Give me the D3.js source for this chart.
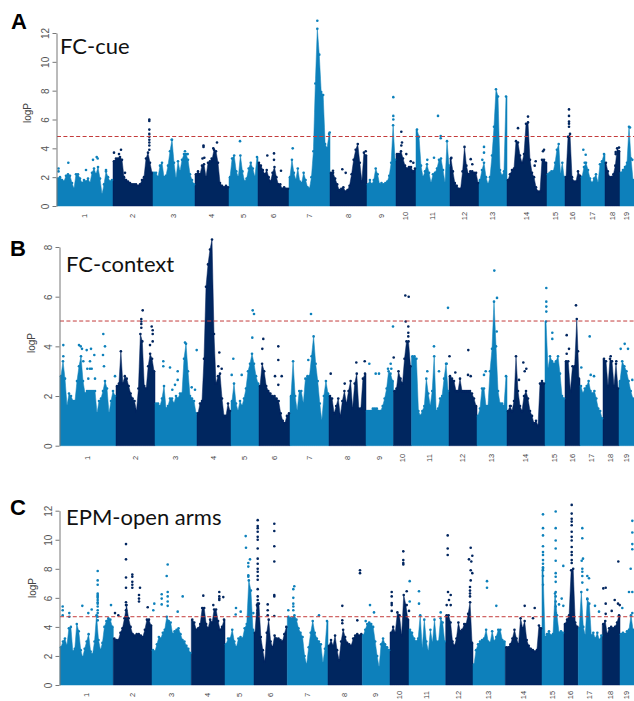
<!DOCTYPE html>
<meta charset="utf-8">
<style>
html, body { margin: 0; padding: 0; background: #fff; overflow: hidden; }
svg { display: block; }
text { font-family: "Liberation Sans", sans-serif; }
</style>
<svg width="634" height="701"></svg>
<script src="https://cdn.jsdelivr.net/npm/d3@7"></script>
<script>

var chromosomes = ["1","2","3","4","5","6","7","8","9","10","11","12","13","14","15","16","17","18","19"];

// chromosome end positions along the genome axis
var cueEnds = [56,96,138,172,201,232,273,310,339,359,393,422,450,490,508,524,548,563,577];
var contextEnds = [56,95,137,171,199,230,269,306,333.5,351.5,389,417,447,485,505,520,543,559,574];
var openArmsEnds = [53.3,92,131.3,165,194,227.3,268,302.3,330,349,385.7,413,445.3,482,504,518.3,542.3,560,574];

// upper edge of the dense mass of markers, one list per chromosome
var cuePeaks = [
  [1.9,2.0,1.8,1.7,2.1,2.2,2.1,1.6,1.2,2.2,2.2,1.9,1.6,1.8,1.7,1.9,1.6,2.3,2.6,2.2,2.7,1.9,0.8,1.5,2.4,2.0,1.7,1.8],
  [3.1,3.3,3.3,3.4,3.2,2.0,1.8,1.7,1.6,1.5,1.5,1.5,1.4,1.5,1.8,2.0,3.3,3.7,3.0,2.3],
  [2.3,2.3,2.0,2.8,3.0,2.0,2.1,2.8,3.8,4.6,3.0,1.9,3.1,2.4,3.2,3.6,3.6,3.2,2.2,1.8,1.5],
  [2.2,2.4,2.2,2.8,2.9,2.0,3.0,3.1,3.2,3.9,3.8,3.0,1.6,1.4,1.3,1.4,1.3],
  [2.0,3.3,3.5,2.4,2.0,3.5,2.4,1.7,1.9,2.6,3.0,2.6,2.0,3.4],
  [3.0,2.8,2.5,2.2,2.5,2.0,1.7,2.3,2.7,2.0,1.5,1.5,1.2,1.3,1.2,1.2],
  [2.0,3.2,2.3,1.8,2.6,1.7,1.6,2.3,1.8,1.3,1.2,2.0,3.8,8.5,12.3,10.5,7.9,7.7,4.3,4.0,5.0],
  [2.3,2.3,1.9,1.5,1.1,1.2,1.3,1.0,1.1,1.4,2.2,3.2,3.9,4.3,3.0,1.7,3.7,3.5],
  [1.5,1.8,1.5,1.8,2.6,2.2,1.5,1.6,1.5,1.6,1.7,2.1,3.0,5.6,3.2],
  [3.6,3.6,3.8,3.3,2.8,2.6,2.7,2.7,2.4,2.6],
  [5.3,4.8,2.8,2.0,2.4,2.9,2.3,1.6,2.2,2.3,2.6,3.2,3.3,2.5,1.6,4.5,2.8],
  [3.3,2.4,1.6,1.4,1.2,1.2,2.4,4.1,2.8,2.2,2.4,2.4,2.3,2.3,1.6],
  [1.8,2.5,3.0,2.0,1.5,2.0,3.5,5.5,8.1,7.6,2.5,2.1,2.4,7.6],
  [1.8,2.2,2.5,2.6,4.5,4.4,3.5,3.0,3.6,5.7,5.8,3.2,2.3,2.0,1.3,1.0,1.0,3.2,3.2,3.0],
  [2.2,2.3,2.4,2.4,3.0,3.9,4.3,2.2,3.0,2.0],
  [2.0,4.8,5.0,2.0,1.7,1.7,2.4,2.1],
  [2.0,2.7,3.0,2.5,1.9,1.6,1.9,2.2,1.6,2.9,3.1,3.6],
  [3.0,2.4,2.0,2.0,2.2,2.8,4.0,3.8],
  [2.3,2.5,2.7,3.0,5.5,3.3,1.8]
];
var contextPeaks = [
  [2.8,3.4,2.7,1.6,2.1,2.0,1.8,1.8,2.6,3.2,3.6,2.6,2.1,2.2,2.2,2.2,2.2,2.2,1.3,1.8,1.9,2.2,2.6,2.3,1.3,1.8,2.2,2.0],
  [2.4,2.5,3.8,2.5,2.8,2.7,2.4,2.1,1.9,1.8,1.4,2.3,4.5,4.2,2.4,2.3,3.2,3.7,3.5,3.0],
  [1.7,1.7,1.6,1.9,2.4,1.5,1.6,1.9,1.9,1.7,2.0,1.9,2.1,2.1,3.5,4.1,3.0,2.0,1.9,1.8,1.3],
  [1.3,1.7,1.8,3.5,6.4,7.3,7.9,8.3,4.5,2.5,2.8,2.9,1.9,1.2,1.2,1.7,1.4],
  [1.8,2.5,1.7,1.4,1.8,1.6,1.9,2.3,3.0,3.3,3.7,3.3,2.8,2.5],
  [2.4,3.3,3.0,2.4,2.2,2.1,2.0,2.0,1.9,1.8,1.3,1.0,0.9,1.2,1.3],
  [2.0,3.4,2.0,1.4,2.2,2.2,1.7,2.7,2.8,2.8,3.6,4.4,3.3,2.6,1.7,1.0,2.0,2.6,2.1],
  [2.0,1.9,1.3,1.6,1.9,1.2,1.8,2.2,1.7,2.2,2.6,1.5,2.5,2.9,1.5,1.5,2.7,2.9],
  [1.4,1.4,1.4,1.5,1.5,1.5,1.4,1.4,1.6,1.9,2.3,3.0,2.9,2.6],
  [2.2,2.3,3.0,2.7,2.5,3.5,4.2,4.2,3.2],
  [3.6,3.6,3.5,1.4,1.2,1.4,1.6,2.7,2.1,1.6,2.2,3.6,1.4,1.5,1.9,2.0,2.7,3.3,2.2],
  [2.8,2.7,2.6,2.2,2.2,2.7,2.2,2.2,2.2,2.2,2.2,2.1,1.9,1.6],
  [1.2,1.5,2.3,2.3,1.6,1.6,3.0,3.9,5.8,4.0,2.2,1.7,1.7,1.6,2.8],
  [1.4,1.6,1.4,1.8,3.6,2.2,1.6,1.4,2.0,2.2,1.9,1.4,1.2,0.9,1.0,0.8,2.5,2.6,2.5],
  [5.0,3.1,3.6,3.4,3.3,3.4,3.6,2.9,2.0,1.9],
  [3.4,3.4,2.2,3.2,3.2,5.1,2.7],
  [2.4,2.1,2.3,2.4,2.6,2.2,2.1,2.2,1.9,1.5,1.4,1.1],
  [3.5,3.4,2.4,3.5,3.4,2.4,3.3,2.3],
  [2.6,3.4,3.2,3.0,2.6,2.2,1.9]
];
var openArmsPeaks = [
  [2.6,3.0,3.2,2.7,3.9,4.0,2.3,2.5,4.2,3.7,2.4,1.9,2.5,3.0,3.5,2.3,2.1,3.0,4.8,3.1,2.4,2.9,4.0,4.4,4.6,4.5,4.0],
  [3.2,3.1,3.1,3.6,3.9,4.6,5.5,4.6,4.0,3.5,3.4,3.5,3.5,3.4,3.3,3.8,4.5,4.5,4.1],
  [2.4,2.3,2.8,3.3,3.2,3.6,3.8,4.7,4.4,4.3,3.5,3.7,3.8,3.9,3.5,3.1,3.0,2.7,2.5,2.2],
  [4.5,4.3,3.8,3.9,4.2,5.3,5.3,4.2,3.9,4.5,4.3,5.2,5.2,4.4,3.8,4.0,4.5],
  [2.8,3.2,3.2,3.8,3.0,2.6,3.2,3.3,3.2,3.9,4.2,7.2,6.5,3.8],
  [3.6,5.5,5.6,3.3,2.4,1.6,3.6,4.5,3.0,2.6,3.4,3.2,3.2,3.1,3.0,3.5,4.0],
  [4.7,4.6,4.6,4.8,4.5,3.9,3.6,3.3,2.0,1.4,2.6,3.6,4.4,3.6,3.2,3.0,2.8,1.5,2.5,4.4],
  [2.7,3.1,2.7,3.4,2.4,1.7,3.0,3.8,3.3,2.9,2.8,2.7,3.2,3.4,3.5,3.4,3.5],
  [3.4,3.8,4.2,4.3,4.2,4.0,3.0,2.0,1.2,2.8,3.2,2.8,2.6,2.4],
  [3.6,4.0,3.6,5.0,4.8,3.4,6.2,5.5,4.5],
  [3.8,3.6,3.2,3.0,3.2,4.8,2.5,4.5,3.0,2.3,3.8,2.9,4.5,3.0,3.0,4.6,4.3,3.0],
  [4.8,4.8,4.3,3.0,2.7,3.2,4.3,3.7,3.8,4.2,4.2,4.9,5.7,2.9],
  [1.4,2.4,2.8,3.0,3.1,3.2,3.8,3.0,2.9,3.7,3.0,3.3,3.8,3.8,3.1,3.0],
  [2.6,2.6,2.8,3.2,3.8,3.2,2.8,4.6,3.9,4.4,3.1,2.7,2.5,2.4,2.3,2.4,4.1,3.9],
  [8.0,3.3,3.5,3.7,3.4,3.5,6.3,4.8,3.6,3.7,3.6],
  [4.2,4.5,4.8,7.9,8.0,4.3,4.0],
  [3.9,6.4,4.0,3.4,5.9,5.6,3.4,3.6,3.2,3.6,3.1,3.4],
  [4.2,4.4,3.5,3.9,4.0,3.9,4.0,4.3,4.8],
  [3.5,3.6,3.5,3.7,3.8,4.8,3.8]
];

// markers standing clear of the mass: position, then the logP values seen there
var cueHits = [
  [1.5,2.6,2.4],[11.3,3.0],[29,2.5],[36,3.2],[39.7,3.4],[40.7,3.3],[49,2.5],
  [57,3.7],[62,3.6],[64,3.9],[68,2.3],[92.3,3.9,4.2,4.4,4.6,4.8,5.0,5.3,5.9,6.0],
  [114.7,4.6],[128,3.8],[130.7,3.6],
  [145.5,3.3],[146.5,4.2,4.1],[147.3,3.35],[154.7,3.3],[156.3,4.0],[160,4.4],
  [183,4.5],[210.3,3.5],[217,3.65,3.2],[224,2.45],
  [235.7,4.0],[260.3,12.85],[272.7,5.1],
  [276,2.45],[285.3,2.55],[288.7,2.3],[308.7,3.8],
  [336.3,7.55,6.25,6.0],
  [344.3,5.15,4.2],[345,4.4],[349.3,3.6],[353.7,3.1],[356.3,3.0],
  [370.3,3.2],[377,3.35],[381,6.25],[383.7,4.85,4.7],
  [394.3,3.35],[413.7,3.25],[415.3,2.9],
  [425.3,3.2],[427,4.1,3.7],
  [461,5.4],[471,6.2],[477.7,2.8],[478.7,3.1],[486,3.8],[487,3.9],
  [512,6.7,6.25,5.85,5.7,5.5],
  [526.3,3.9],[527.7,3.0],[528.7,3.55],
  [558.7,3.75,3.6],[562,4.05],[573,5.45],[575.3,3.2]
];
var contextHits = [
  [3.3,4.05,3.6],[19,4.05],[20.7,4.0],[22,3.9],[23.3,3.4],[26.7,3.85],[27.3,3.1],[28.3,2.7],[30,3.4,3.1],
  [31,3.9],[31.7,3.1],[34.3,3.65],[35,2.7],[43,3.65],[43.3,4.5],[44,3.2],[45,4.0],[55,2.8],
  [81.3,5.1,5.0,4.9,4.75],[82.7,5.45],[90,4.05],[91.7,4.8],[92.7,4.65,4.5,4.2],
  [103.3,3.4,3.2],[110,3.15],[112.3,2.25],[115,2.45],[117.7,3.0,2.65],[125,4.15],[131.7,2.35],[135,2.25],[136.7,3.85],
  [158.3,3.2],[159.3,3.75],[161.7,3.1],
  [171.7,2.85],[173.3,3.5],[181.7,2.85],[192.3,4.35],[192.7,5.45],[194,5.3],
  [202.3,3.9],[203.3,4.3],[215,2.8],[218.3,4.0,3.45,2.45],[221.7,2.8],
  [248.3,3.45],[251,5.3],
  [270.7,2.9],[284.7,2.5],[296.3,3.35],[304.7,3.4],
  [309.3,3.3],[315.7,2.9],[319,2.9],[328,3.1],[330.7,3.3],[331.3,3.1],[333,4.8],
  [333.7,3.55],[345.3,6.05],[345.7,5.0],[348.3,4.8,4.55,4.4],[348.7,6.0],
  [367.3,3.0],[374,4.0],[379,3.0],[386.7,3.3],[388,5.55],
  [389.5,3.6],[395.3,2.95],[408,2.85],[408.3,3.85],[410.7,2.8],
  [424,2.85],[425.7,3.0],[434.3,7.05],[436.7,4.6],[437,5.95],
  [450.7,1.6],[459,2.65],[463.3,3.35],[464.7,3.0],[466.3,3.1],
  [486.3,6.35,5.8,5.6,5.4],[492.3,4.55,4.3],
  [506.7,4.45,3.7],[509,3.9],[516,5.65],[518,3.8],
  [521.3,3.15],[529.7,4.4],[530.7,2.85],[534,2.8],
  [550.7,3.6],[556.3,3.4],[560.7,3.9],[564.7,4.1],[568,3.9],[572.3,2.65]
];
var openArmsHits = [
  [2.7,5.4,5.15,4.8],[9.3,4.95,4.7],[22.3,5.45],[28.3,4.95],[31.7,5.2],
  [37.7,7.85,7.2,6.9,6.3,6.2,6.1,6.0,5.85,5.7,5.6,5.4,5.15,4.95,4.7,4.45],[51,5.5],
  [55,4.95],[58.3,4.8],[66,9.7,8.65,7.4,6.7,5.7,5.5,5.15],[72.3,7.6,7.45,7.1,6.9,6.7],[79,6.2,5.95,5.75],[80,6.7],[87.7,5.35],
  [93.3,5.15],[94.3,5.6],[101.7,6.25,5.95,5.55],[106.7,7.5],[107.7,8.3,6.4,6.1,5.75,5.45],[117.7,5.05],[122.7,6.1],
  [143.3,6.15],[153.3,5.5],[159.3,6.4,6.1,5.95,5.85],[163.3,6.05],
  [175.7,4.85],[176,5.3],[180.7,5.05],[185.7,10.25],[186,9.45],[188.3,8.4,8.15,7.55,7.45],[190,8.65],[193.3,4.95],
  [197.7,11.35,10.95,10.8,10.55,10.2,10.0,9.4,8.7,8.35,8.0,7.8,7.5,7.25,6.6,6.1,5.85,5.6,5.4,5.15,4.95,4.6],
  [207.7,5.55,5.15,4.8],[214.3,11.1,10.6,9.55,8.5,6.2,6.1,4.75],
  [228.3,5.15],[233.3,6.6,6.0,5.6,5.4,5.15],[234.3,6.8],[259,4.8],
  [282.3,5.45,4.45,4.25],[297.3,4.45],[300,7.9,7.7],[305.7,4.4],
  [310,5.5],[314,5.0],
  [331.7,6.4,6.1,5.65,5.5,5.1],[343.3,9.2,8.6,8.4,8.3],[346.7,6.45,5.5],[349,5.1],
  [349.7,7.15,5.75],[359,6.45,5.6],[380.7,5.0],
  [386.7,5.5],[387.7,10.3,9.4,8.95],[388,6.4],[389,5.85],[390.7,6.2,5.5],[409,8.65],[410,6.75,6.5,6.3,6.1],
  [410.7,9.45,7.9,7.2],[411.3,8.5],[412.3,8.9,7.7],
  [427,7.15,6.7],[436.3,5.45],
  [464.7,5.45],[473,4.6],[474.7,5.3],
  [483,11.75,10.8,10.3,9.55,9.15,8.95,8.6,8.35,8.1,7.9,7.5,6.9],
  [495.7,11.95,10.8,9.95,9.4,8.55,7.7,7.45,7.1,6.4,6.1,5.75,5.4,4.95],
  [499,5.55],[501.7,5.95],[503.3,8.2,5.45],
  [511.7,12.4,11.8,11.45,11.25,11.0,10.55,10.2,9.95,9.5,9.15,8.95,8.6,8.4],
  [521.7,8.55],[522.3,10.8,10.1,8.0,7.8,7.5,7.05],[523,8.7],[527.3,7.5,6.55,5.95],[529,7.35],[535,5.45],[539,5.05],
  [543.3,6.65],[545.7,6.7,5.6,4.9],[551.7,5.1],[554.7,5.85],[558,5.6],[558.3,8.5],[559.7,5.5],
  [562.3,5.3],[569,6.4],[570.7,8.0],[572.3,11.3,10.5,9.7,9.35,6.4,4.95]
];

var cueTicks = [0,2,4,6,8,10,12];
var contextTicks = [0,2,4,6,8];
var openArmsTicks = [0,2,4,6,8,10,12];

var light = "#0b80bb",
    dark = "#03255f";

var panels = [
  { letter: "A", title: "FC-cue", ends: cueEnds, peaks: cuePeaks, hits: cueHits, ticks: cueTicks, cut: 4.82,
    left: 57, top: 33, bottom: 206, chrY: 216, letterY: 29, letterX: 11, titleX: 60, titleY: 54, labelX: 31, labelY: 113 },
  { letter: "B", title: "FC-context", ends: contextEnds, peaks: contextPeaks, hits: contextHits, ticks: contextTicks, cut: 5.02,
    left: 60, top: 247, bottom: 445.7, chrY: 458, letterY: 256, letterX: 10, titleX: 66, titleY: 272, labelX: 35, labelY: 343 },
  { letter: "C", title: "EPM-open arms", ends: openArmsEnds, peaks: openArmsPeaks, hits: openArmsHits, ticks: openArmsTicks, cut: 4.7,
    left: 60, top: 510.7, bottom: 685, chrY: 695, letterY: 515, letterX: 10, titleX: 66, titleY: 525, labelX: 36, labelY: 588 }
];

var svg = d3.select("svg");

var defs = svg.append("defs");
defs.append("filter").attr("id", "soft")
    .append("feGaussianBlur").attr("stdDeviation", 0.4);

panels.forEach(drawPanel);

function drawPanel(p) {

    var total = p.ends[p.ends.length - 1];

    var x = d3.scaleLinear().domain([0, total]).range([p.left, 634]);
    var y = d3.scaleLinear().domain([0, p.ticks[p.ticks.length - 1]]).range([p.bottom, p.top]);

    var colour = function(i) { return i % 2 ? dark : light; };

    var area = d3.area()
        .x(function(d) { return x(d.pos); })
        .y0(y(0))
        .y1(function(d) { return y(d.logP); });

    // one outline per chromosome, squared off at both ends
    var blocks = p.peaks.map(function(list, i) {
        var start = i ? p.ends[i - 1] : 0,
            step = (p.ends[i] - start) / list.length;
        var edge = list.map(function(v, j) {
            return { pos: start + (j + 0.5) * step, logP: v };
        });
        edge.unshift({ pos: start, logP: list[0] });
        edge.push({ pos: p.ends[i], logP: list[list.length - 1] });
        return { chr: i, edge: edge };
    });

    var tops = [];
    blocks.forEach(function(b) {
        b.edge.slice(1, -1).forEach(function(e) {
            tops.push({ chr: b.chr, pos: e.pos, logP: e.logP });
        });
    });

    var hits = [];
    p.hits.forEach(function(h) {
        var chr = Math.min(d3.bisectLeft(p.ends, h[0]), 18);
        h.slice(1).forEach(function(v) {
            hits.push({ chr: chr, pos: h[0], logP: v });
        });
    });

    var g = svg.append("g").attr("class", "panel");
    var marks = g.append("g").attr("filter", "url(#soft)");

    marks.selectAll("path.block").data(blocks).enter().append("path")
        .attr("class", "block")
        .attr("d", function(d) { return area(d.edge); })
        .attr("fill", function(d) { return colour(d.chr); })
        .attr("stroke", function(d) { return colour(d.chr); })
        .attr("stroke-width", 0.5);

    marks.selectAll("circle.cap").data(tops.concat(hits)).enter().append("circle")
        .attr("class", "cap")
        .attr("cx", function(d) { return x(d.pos); })
        .attr("cy", function(d) { return y(d.logP); })
        .attr("r", 1.3)
        .attr("fill", function(d) { return colour(d.chr); });

    // threshold
    g.append("line")
        .attr("x1", x(0)).attr("x2", x(total))
        .attr("y1", y(p.cut)).attr("y2", y(p.cut))
        .attr("stroke", "#c43c3c").attr("stroke-width", 1)
        .attr("stroke-dasharray", "4,2.4");

    // y axis in the R style: rotated labels, line only as far as the ticks
    var axis = g.append("g")
        .attr("transform", "translate(" + (p.left - 0.5) + ",0)")
        .call(d3.axisLeft(y).tickValues(p.ticks).tickSize(4).tickSizeOuter(0));
    axis.selectAll("path, line").attr("stroke", "#777");
    axis.selectAll("text")
        .attr("transform", "translate(-8,0) rotate(-90)")
        .attr("x", 0).attr("y", 0).attr("dy", 0)
        .attr("text-anchor", "middle")
        .attr("fill", "#555")
        .style("font-size", "10px")
        .style("font-family", '"Liberation Sans", sans-serif');

    g.append("text")
        .attr("transform", "translate(" + p.labelX + "," + p.labelY + ") rotate(-90)")
        .attr("text-anchor", "middle")
        .attr("fill", "#444")
        .style("font-size", "10px")
        .text("logP");

    // chromosome names at the middle of each block
    g.selectAll("text.chr").data(chromosomes).enter().append("text")
        .attr("class", "chr")
        .attr("transform", function(d, i) {
            var mid = ((i ? p.ends[i - 1] : 0) + p.ends[i]) / 2;
            return "translate(" + (x(mid) + 2) + "," + p.chrY + ") rotate(-90)";
        })
        .attr("text-anchor", "middle")
        .attr("fill", "#444")
        .style("font-size", "7.5px")
        .text(function(d) { return d; });

    g.append("text")
        .attr("x", p.titleX).attr("y", p.titleY)
        .attr("fill", "#111")
        .style("font-family", "Lato, sans-serif")
        .style("font-size", "22px")
        .text(p.title);

    g.append("text")
        .attr("x", p.letterX).attr("y", p.letterY)
        .attr("fill", "#000")
        .style("font-size", "22px")
        .style("font-weight", "bold")
        .text(p.letter);
}

</script>
